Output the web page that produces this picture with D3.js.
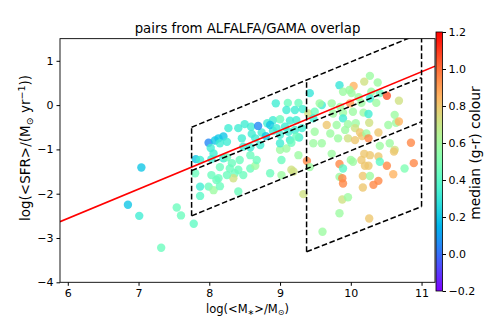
<!DOCTYPE html>
<html>
<head>
<meta charset="utf-8">
<script src="https://cdn.jsdelivr.net/npm/d3@7"></script>
<style>
  body{margin:0;background:#fff;}
  text{font-family:"DejaVu Sans",sans-serif;fill:#000;}
</style>
</head>
<body>
<svg id="chart" width="485" height="323"></svg>
<script>
// galaxy pairs: log stellar mass, log SFR, median g-r colour
const massX = [7.04,6.85,7.01,7.54,7.60,7.32,7.78,7.81,7.87,7.87,7.87,7.99,8.08,8.13,8.20,8.25,8.15,8.06,8.03,8.02,
  8.20,8.25,8.32,8.29,8.36,8.34,8.13,8.10,7.99,8.06,8.15,8.41,7.80,8.03,8.25,8.48,8.15,8.41,8.58,8.65,
  8.86,9.02,9.16,8.43,8.58,8.67,9.00,9.09,9.26,9.02,8.48,8.58,8.72,9.00,9.14,9.27,8.46,8.60,8.65,8.74,
  8.80,8.90,9.00,9.12,9.21,9.31,8.27,8.41,8.50,8.59,8.69,8.82,8.90,9.00,8.86,8.95,9.07,9.14,9.23,8.94,
  9.11,9.26,9.09,9.21,9.32,9.40,9.42,9.16,9.23,10.27,9.84,10.04,10.19,10.38,9.98,9.89,10.01,10.29,10.41,10.11,
  10.27,10.51,9.59,9.73,9.85,9.99,10.15,10.36,10.68,9.49,9.75,9.89,10.03,10.18,10.25,10.62,9.47,9.89,9.96,9.80,
  10.07,10.26,10.53,10.64,10.68,9.49,9.66,9.71,9.92,10.06,10.13,9.96,10.06,10.16,10.22,10.39,10.25,9.82,9.59,9.47,
  10.55,10.41,10.62,10.85,9.38,9.73,10.19,10.27,10.39,10.61,9.84,9.89,10.00,10.03,10.15,10.20,10.25,10.41,10.51,10.60,
  10.76,10.89,9.84,9.88,9.89,10.17,10.27,10.39,10.32,10.17,9.88,9.96,9.33,9.84,10.26,9.60,9.19,9.42,9.56];
const sfrY = [-1.41,-2.25,-2.50,-2.31,-2.49,-3.22,-2.68,-1.22,-1.24,-1.84,-2.05,-0.85,-0.80,-0.75,-0.71,-0.83,-0.86,-1.09,-1.22,-0.97,
  -1.20,-1.18,-1.31,-1.43,-1.54,-1.65,-1.65,-1.69,-1.84,-1.92,-1.83,-1.95,-1.54,-1.58,-1.58,-1.58,-1.40,-1.46,-1.43,-1.37,
  -1.54,-1.58,-1.46,-1.24,-1.13,-1.24,-1.01,-0.98,-1.13,-1.24,-0.94,-0.95,-0.90,-0.86,-0.79,-0.73,-0.75,-0.65,-0.75,-0.62,
  -0.70,-0.58,-0.67,-0.60,-0.56,-0.52,-0.52,-0.52,-0.43,-0.49,-0.47,-0.41,-0.34,-0.32,-0.45,-0.52,-0.49,-0.35,-0.34,0.04,
  0.05,0.05,-0.11,-0.11,-0.09,-0.19,0.27,-0.85,-0.71,0.66,0.45,0.43,0.53,0.51,0.34,0.30,0.27,0.30,0.27,0.18,
  0.15,0.21,0.00,0.04,-0.04,0.04,0.05,0.05,0.10,-0.15,-0.19,-0.17,-0.15,-0.17,-0.20,-0.22,-0.30,-0.30,-0.43,-0.45,
  -0.41,-0.40,-0.45,-0.40,-0.37,-0.60,-0.45,-0.64,-0.56,-0.52,-0.62,-0.75,-0.79,-0.70,-0.64,-0.62,-0.75,-0.75,-0.86,-0.86,
  -0.86,-0.92,-1.01,-0.85,-1.26,-1.10,-1.10,-1.13,-1.16,-1.05,-1.33,-1.43,-1.24,-1.28,-1.24,-1.37,-1.37,-1.28,-1.37,-1.56,
  -1.43,-1.31,-1.62,-1.65,-1.77,-1.60,-1.60,-1.71,-1.80,-1.86,-2.13,-2.08,-2.01,-2.44,-2.56,-2.86,-1.50,-1.40,0.04];
const colourGR = [0.2,0.2,0.33,0.45,0.45,0.45,0.42,0.2,0.33,0.33,0.4,0.05,0.2,0.2,0.2,0.33,0.33,0.33,0.33,0.33,
  0.33,0.45,0.45,0.45,0.45,0.72,0.45,0.45,0.45,0.58,0.45,0.45,0.45,0.45,0.45,0.45,0.45,0.45,0.45,0.58,
  0.45,0.58,0.72,0.45,0.45,0.45,0.58,0.58,0.58,0.45,0.33,0.33,0.33,0.33,0.33,0.33,0.33,0.33,0.33,0.33,
  0.2,0.33,0.33,0.33,0.33,0.33,0.33,0.33,0.33,0.33,0.05,0.33,0.33,0.45,0.2,0.33,0.33,0.33,0.33,0.33,
  0.45,0.45,0.33,0.33,0.33,0.72,0.3,0.45,0.45,0.58,0.3,0.85,0.72,0.58,0.58,0.58,0.58,0.58,0.45,0.58,
  0.33,1.05,0.33,0.58,0.58,0.9,0.58,0.58,0.72,0.45,0.58,0.58,0.58,0.58,0.33,0.58,0.33,0.33,0.58,0.58,
  0.58,0.72,0.58,0.58,0.85,0.58,0.8,0.58,0.58,0.72,0.8,0.72,0.8,0.8,0.58,0.8,0.95,0.58,0.58,0.58,
  0.58,0.58,0.72,0.95,0.95,0.58,0.8,0.8,0.8,0.8,0.95,0.4,0.58,0.58,0.8,0.8,0.8,0.4,0.95,0.85,
  0.5,0.95,0.58,0.95,0.95,0.8,0.58,0.95,0.95,0.8,0.72,0.58,0.72,0.58,0.8,0.58,0.72,0.58,0.58];

// star-forming main sequence (red line)
const msSlope = 0.662, msIntercept = -6.53;
// dashed selection boxes, each segment [[x0,y0],[x1,y1]] in data units
const boxSegments = [
  [[7.75,-2.5],[7.75,-0.5]],
  [[9.375,-3.31],[9.375,0.567]],
  [[11.0,-2.29],[11.0,1.63]],
  [[7.75,-0.5],[11.0,1.63]],
  [[7.75,-1.48],[11.0,0.62]],
  [[7.75,-2.5],[11.0,-0.375]],
  [[9.375,-3.31],[11.0,-2.29]]
];
const xTicks = [6,7,8,9,10,11];
const yTicks = [-4,-3,-2,-1,0,1];
const cTicks = [-0.2,0.0,0.2,0.4,0.6,0.8,1.0,1.2];

const svg = d3.select('#chart');
const pLeft = 60, pRight = 435, pTop = 38.65, pBottom = 282.3;
const x = d3.scaleLinear().domain([5.89, 11.19]).range([pLeft, pRight]);
const y = d3.scaleLinear().domain([-4, 1.5]).range([pBottom, pTop]);
const cMin = -0.2, cMax = 1.2;

// matplotlib 'rainbow'
function rainbow(t){
  t = Math.max(0, Math.min(1, t));
  const r = Math.min(1, Math.abs(2*t - 0.5));
  const g = Math.sin(t*Math.PI);
  const b = Math.cos(t*Math.PI/2);
  return d3.rgb(r*255, g*255, b*255).formatHex();
}
const colour = v => rainbow((v - cMin)/(cMax - cMin));

const defs = svg.append('defs');
defs.append('clipPath').attr('id','plotClip')
  .append('rect').attr('x',pLeft).attr('y',pTop).attr('width',pRight-pLeft).attr('height',pBottom-pTop);

const plot = svg.append('g').attr('clip-path','url(#plotClip)');

const pts = massX.map((m,i)=>({m, s:sfrY[i], c:colourGR[i]}));
plot.selectAll('circle.gal').data(pts).enter().append('circle')
  .attr('class','gal')
  .attr('cx', d=>x(d.m))
  .attr('cy', d=>y(d.s))
  .attr('r', 4.2)
  .attr('fill', d=>colour(d.c))
  .attr('fill-opacity', 0.8);

const xd = x.domain();
plot.append('line')
  .attr('x1', x(xd[0])).attr('y1', y(msSlope*xd[0]+msIntercept))
  .attr('x2', x(xd[1])).attr('y2', y(msSlope*xd[1]+msIntercept))
  .style('stroke','#ff0000').style('stroke-width',1.6);

plot.selectAll('line.box').data(boxSegments).enter().append('line')
  .attr('class','box')
  .attr('x1', d=>x(d[0][0])).attr('y1', d=>y(d[0][1]))
  .attr('x2', d=>x(d[1][0])).attr('y2', d=>y(d[1][1]))
  .style('stroke','#000').style('stroke-width',1.5)
  .style('stroke-dasharray','5.6,2.6');

// axes
const xAxis = svg.append('g').attr('transform',`translate(0,${pBottom})`)
  .call(d3.axisBottom(x).tickValues(xTicks).tickFormat(d3.format('d')).tickSizeOuter(0).tickSize(3.5).tickPadding(3));
const yAxis = svg.append('g').attr('transform',`translate(${pLeft},0)`)
  .call(d3.axisLeft(y).tickValues(yTicks).tickFormat(d3.format('d')).tickSizeOuter(0).tickSize(3.5).tickPadding(3));
[xAxis,yAxis].forEach(a=>{
  a.selectAll('text').style('font-size','11px');
  a.select('.domain').remove();
});
svg.append('rect').attr('x',pLeft).attr('y',pTop).attr('width',pRight-pLeft).attr('height',pBottom-pTop)
  .attr('fill','none').attr('stroke','#000').attr('stroke-width',0.9);

// colourbar
const cbX = 436, cbW = 6.5, cbTop = 32, cbBottom = 291;
const cy = d3.scaleLinear().domain([cMin, cMax]).range([cbBottom, cbTop]);
const grad = defs.append('linearGradient').attr('id','cbGrad')
  .attr('x1',0).attr('y1',1).attr('x2',0).attr('y2',0);
d3.range(0,1.0001,0.05).forEach(t=>{
  grad.append('stop').attr('offset', t).attr('stop-color', rainbow(t));
});
svg.append('rect').attr('x',cbX).attr('y',cbTop).attr('width',cbW).attr('height',cbBottom-cbTop)
  .attr('fill','url(#cbGrad)').attr('stroke','#000').attr('stroke-width',0.8);
const cAxis = svg.append('g').attr('transform',`translate(${cbX+cbW},0)`)
  .call(d3.axisRight(cy).tickValues(cTicks).tickFormat(d3.format('.1f')).tickSizeOuter(0).tickSize(3.5).tickPadding(2.5));
cAxis.select('.domain').remove();
cAxis.selectAll('text').style('font-size','11px');

// titles
svg.append('text').attr('x',(pLeft+pRight)/2).attr('y',33).attr('text-anchor','middle')
  .style('font-size','13.3px').text('pairs from ALFALFA/GAMA overlap');

const xl = svg.append('text').attr('x',(pLeft+pRight)/2).attr('y',313).attr('text-anchor','middle')
  .style('font-size','11.5px');
xl.append('tspan').text('log(<M');
xl.append('tspan').attr('dy',2).style('font-size','8px').text('∗');
xl.append('tspan').attr('dy',-2).text('>/M');
xl.append('tspan').attr('dy',2).style('font-size','8px').text('⊙');
xl.append('tspan').attr('dy',-2).text(')');

const yl = svg.append('text').attr('transform','translate(30,148) rotate(-90)')
  .attr('text-anchor','middle').style('font-size','13.5px');
yl.append('tspan').text('log(<SFR>/(M');
yl.append('tspan').attr('dy',2.5).style('font-size','9.5px').text('⊙');
yl.append('tspan').attr('dy',-2.5).text(' yr');
yl.append('tspan').attr('dy',-5).style('font-size','9.5px').text('−1');
yl.append('tspan').attr('dy',5).text('))');

svg.append('text').attr('transform','translate(480,153) rotate(-90)')
  .attr('text-anchor','middle').style('font-size','13.8px').text('median (g-r) colour');
</script>
</body>
</html>
